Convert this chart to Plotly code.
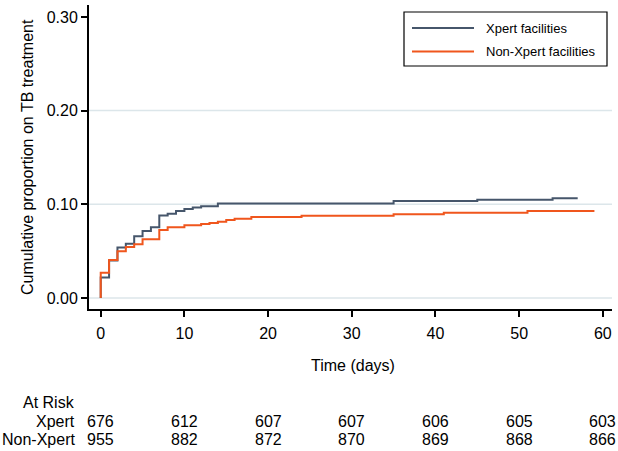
import plotly.graph_objects as go

# ---- data ----
xpert_days = [0, 0, 1, 2, 3, 4, 5, 6, 7, 8, 9, 10, 11, 12, 14, 35, 45, 54, 57]
xpert_cum = [0.0, 0.022, 0.040, 0.054, 0.058, 0.066, 0.0715, 0.0755, 0.088, 0.090,
             0.093, 0.095, 0.0965, 0.098, 0.101, 0.1035, 0.1048, 0.1065, 0.1065]

nonx_days = [0, 0, 1, 2, 3, 4, 5, 7, 8, 10, 12, 13, 14, 15, 16, 18, 24, 35, 41, 51, 59]
nonx_cum = [0.0, 0.027, 0.0405, 0.050, 0.0545, 0.0573, 0.0626, 0.0726, 0.0755, 0.0776,
            0.0789, 0.080, 0.0815, 0.0832, 0.0847, 0.0865, 0.0879, 0.0895, 0.091,
            0.0928, 0.0928]

series_names = ["Xpert facilities", "Non-Xpert facilities"]
x_ticks = [0, 10, 20, 30, 40, 50, 60]
y_ticks = [0.0, 0.10, 0.20, 0.30]
y_tick_labels = ["0.00", "0.10", "0.20", "0.30"]
grid_vals = [0.0, 0.10, 0.20]

risk_times = [0, 10, 20, 30, 40, 50, 60]
risk_xpert = [676, 612, 607, 607, 606, 605, 603]
risk_nonx = [955, 882, 872, 870, 869, 868, 866]
risk_row_labels = ["At Risk", "Xpert", "Non-Xpert"]

x_title = "Time (days)"
y_title = "Cumulative proportion on TB treatment"

# ---- style ----
BLUE = "#46566b"
ORANGE = "#f0561d"
GRID = "#dce6ea"
FONT = "Liberation Sans, Arial, Helvetica, sans-serif"

W, H = 618, 451
L, R, T, B = 89, 6, 5, 142
PW = W - L - R
PH = H - T - B


def px_x(p):
    return (p - L) / PW


def px_y(p):
    return (H - B - p) / PH


fig = go.Figure()
fig.add_trace(go.Scatter(x=xpert_days, y=xpert_cum, mode="lines", line_shape="hv",
                         line=dict(color=BLUE, width=2), name=series_names[0],
                         showlegend=False))
fig.add_trace(go.Scatter(x=nonx_days, y=nonx_cum, mode="lines", line_shape="hv",
                         line=dict(color=ORANGE, width=2), name=series_names[1],
                         showlegend=False))

shapes = []
for g in grid_vals:
    shapes.append(dict(type="line", xref="paper", yref="y", x0=0, x1=1, y0=g, y1=g,
                       line=dict(color=GRID, width=1.5), layer="below"))

# legend box
shapes.append(dict(type="rect", xref="paper", yref="paper",
                   x0=px_x(404), x1=px_x(607), y0=px_y(66), y1=px_y(12),
                   line=dict(color="black", width=1.2), fillcolor="white"))
annotations = []
for name, col, yy in [(series_names[0], BLUE, 28), (series_names[1], ORANGE, 51.5)]:
    shapes.append(dict(type="line", xref="paper", yref="paper",
                       x0=px_x(412), x1=px_x(474), y0=px_y(yy), y1=px_y(yy),
                       line=dict(color=col, width=2)))
    annotations.append(dict(xref="paper", yref="paper", x=px_x(484), y=px_y(yy),
                            text=name, showarrow=False, xanchor="left",
                            yanchor="middle", font=dict(size=13, color="black",
                                                        family=FONT)))

# axis titles
annotations.append(dict(xref="paper", yref="paper", x=px_x(352.5), y=px_y(365),
                        text=x_title, showarrow=False, xanchor="center",
                        yanchor="middle", font=dict(size=16, color="black", family=FONT)))
annotations.append(dict(xref="paper", yref="paper", x=px_x(27), y=px_y(157),
                        text=y_title, showarrow=False, textangle=-90,
                        xanchor="center", yanchor="middle",
                        font=dict(size=16, color="black", family=FONT)))

# at-risk table
row_y = [402.7, 421, 439.3]
for lab, yy in zip(risk_row_labels, row_y):
    annotations.append(dict(xref="paper", yref="paper", x=px_x(77), y=px_y(yy),
                            text=lab, showarrow=False, xanchor="right",
                            yanchor="middle",
                            font=dict(size=16, color="black", family=FONT)))
for vals, yy in [(risk_xpert, row_y[1]), (risk_nonx, row_y[2])]:
    for t, v in zip(risk_times, vals):
        annotations.append(dict(xref="x", yref="paper", x=t, y=px_y(yy),
                                text=str(v), showarrow=False, xanchor="center",
                                yanchor="middle",
                                font=dict(size=16, color="black", family=FONT)))

fig.update_layout(
    width=W, height=H,
    margin=dict(l=L, r=R, t=T, b=B),
    paper_bgcolor="white", plot_bgcolor="white",
    font=dict(family=FONT, size=16, color="black"),
    shapes=shapes, annotations=annotations,
    showlegend=False,
    xaxis=dict(range=[-1.4, 61.1], tickvals=x_ticks, showgrid=False, zeroline=False,
               showline=True, linecolor="black", linewidth=2,
               ticks="outside", ticklen=6, tickwidth=1.5, tickcolor="black",
               tickfont=dict(size=16, family=FONT), ticklabelstandoff=3),
    yaxis=dict(range=[-0.0117, 0.3127], tickvals=y_ticks, ticktext=y_tick_labels,
               showgrid=False, zeroline=False,
               showline=True, linecolor="black", linewidth=2,
               ticks="outside", ticklen=6, tickwidth=1.5, tickcolor="black",
               tickfont=dict(size=16, family=FONT)),
)

fig.write_html("out.html", config={"displayModeBar": False},
               post_script="document.body.style.margin='0';document.body.style.overflow='hidden';")
